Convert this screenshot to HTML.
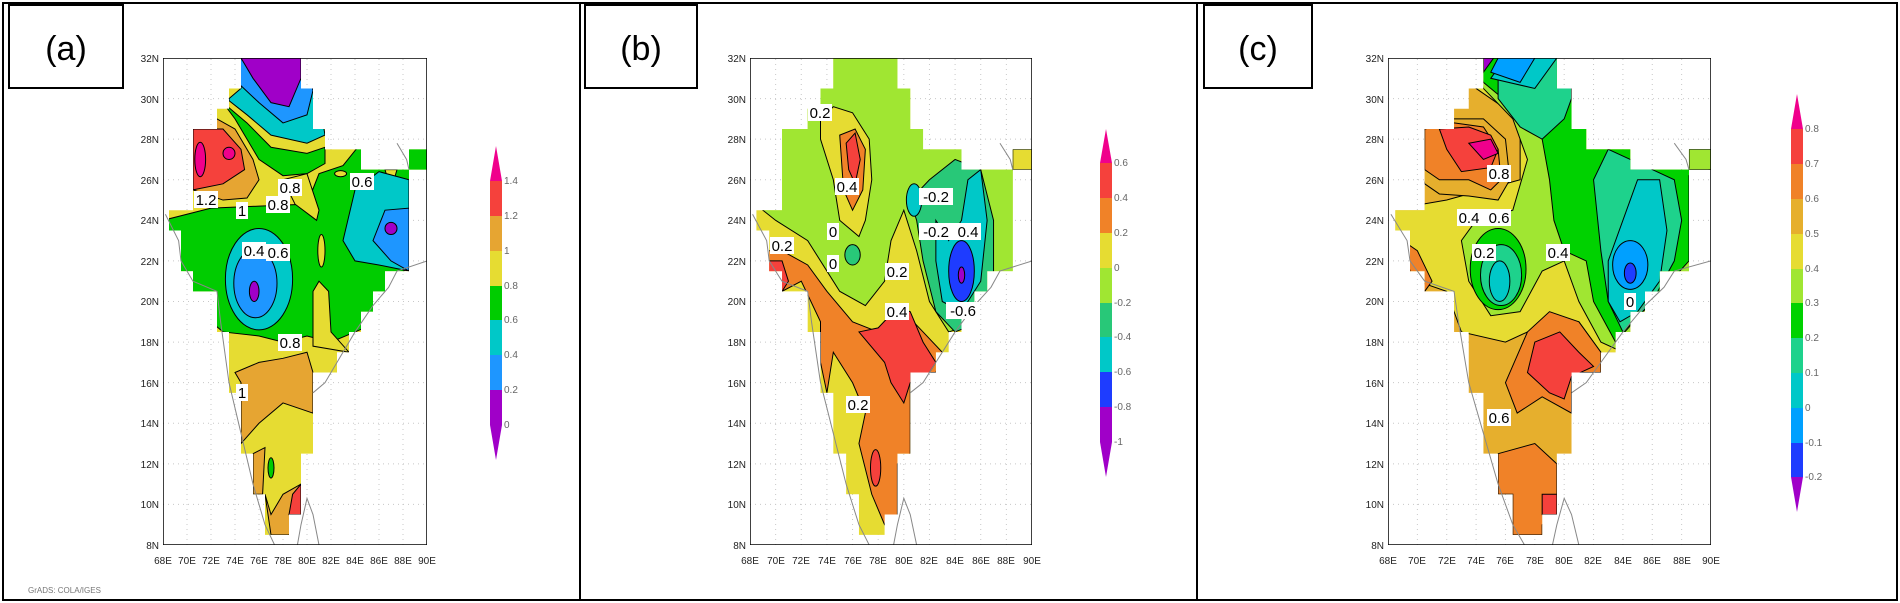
<!DOCTYPE html>
<html><head><meta charset="utf-8"><style>
html,body{margin:0;padding:0;background:#fff;overflow:hidden;width:1900px;height:603px}
svg{display:block}
svg text{font-family:"Liberation Sans",sans-serif}
.t{font-size:10px;fill:#222}
.cb{font-size:10px;fill:#666}
.lb{font-size:15px;fill:#000;text-anchor:middle}
.pl{font-size:34px;text-anchor:middle}
</style></head><body>
<svg width="1900" height="603" viewBox="0 0 1900 603" xmlns="http://www.w3.org/2000/svg">
<defs>
<clipPath id="india"><path d="M74.5,32 L79.5,32 L79.5,30.5 L80.5,30.5 L80.5,28.5 L81.5,28.5 L81.5,27.5 L84.5,27.5 L84.5,26.5 L88.5,26.5 L88.5,27.5 L90,27.5 L90,26.5 L88.5,26.5 L88.5,21.5 L86.5,21.5 L86.5,20.5 L85.5,20.5 L85.5,19.5 L84.5,19.5 L84.5,18.5 L83.5,18.5 L83.5,17.5 L82.5,17.5 L82.5,16.5 L80.5,16.5 L80.5,12.5 L79.5,12.5 L79.5,9.5 L78.5,9.5 L78.5,8.5 L76.5,8.5 L76.5,10.5 L75.5,10.5 L75.5,12.5 L74.5,12.5 L74.5,15.5 L73.5,15.5 L73.5,18.5 L72.5,18.5 L72.5,20.5 L70.5,20.5 L70.5,21.5 L69.5,21.5 L69.5,23.5 L68.5,23.5 L68.5,24.5 L70.5,24.5 L70.5,28.5 L72.5,28.5 L72.5,29.5 L73.5,29.5 L73.5,30.5 L74.5,30.5 Z"/></clipPath>
<g id="grid" stroke="#c8c8c8" stroke-width="1" stroke-dasharray="1,4" fill="none">
<path vector-effect="non-scaling-stroke" d="M70,8V32M72,8V32M74,8V32M76,8V32M78,8V32M80,8V32M82,8V32M84,8V32M86,8V32M88,8V32M68,10H90M68,12H90M68,14H90M68,16H90M68,18H90M68,20H90M68,22H90M68,24H90M68,26H90M68,28H90M68,30H90"/>
</g>
<g id="coast" fill="none" stroke="#888" stroke-width="1">
<path vector-effect="non-scaling-stroke" d="M68.2,24.3 L69.3,23 L69.5,22 L70.5,21 L72.5,20.5 L72.8,19 L73.5,16 L74.5,13.5 L75.5,11 L76.5,9 L77.3,8 M79.2,8 L79.5,9 L80,10.3 L80.5,9.5 L81,8 M80.5,15.5 L81.5,16 L82.5,17 L84,18.5 L85.5,19.8 L86.8,20.7 L87.5,21.5 L90,22 M87.5,27.8 L88.3,27 L88.5,26.5"/>
</g>
<rect id="frame" x="68" y="8" width="22" height="24" fill="none" stroke="#000" stroke-width="1.5" vector-effect="non-scaling-stroke"/>
</defs>

<rect x="3" y="3" width="1894" height="597" fill="none" stroke="#000" stroke-width="2"/>
<line x1="580" y1="3" x2="580" y2="600" stroke="#000" stroke-width="2"/>
<line x1="1197" y1="3" x2="1197" y2="600" stroke="#000" stroke-width="2"/>

<rect x="9" y="5" width="114" height="83" fill="#fff" stroke="#000" stroke-width="2"/>
<text class="pl" x="66" y="60">(a)</text>
<rect x="585" y="5" width="112" height="83" fill="#fff" stroke="#000" stroke-width="2"/>
<text class="pl" x="641" y="60">(b)</text>
<rect x="1204" y="5" width="108" height="83" fill="#fff" stroke="#000" stroke-width="2"/>
<text class="pl" x="1258" y="60">(c)</text>

<text x="28" y="593" style="font-size:8px;fill:#777">GrADS: COLA/IGES</text>

<!-- PANEL A -->
<svg x="163" y="58" width="264" height="487" viewBox="68 -32 22 24" preserveAspectRatio="none">
<g transform="scale(1,-1)">
<use href="#grid"/>
<g clip-path="url(#india)" stroke="#000" stroke-width="1">
<rect x="68" y="8" width="22" height="24" fill="#e6dc32" stroke="none"/>
<path vector-effect="non-scaling-stroke" fill="#00cc00" d="M68,24 L72,24.6 L76,24.7 L80,24.8 L81,26.3 L83,26.7 L84.5,27.8 L90,28 L90,26 L88.5,22 L86,19 L84,18.5 L82,18 L80,18.3 L78,18 L76,18.3 L73,18.5 L70,20 L68,22 Z"/>
<path vector-effect="non-scaling-stroke" fill="#00cc00" d="M73,29.8 L75,28.8 L77,27.6 L80,27.3 L81.5,27.6 L81.5,26.8 L80,26.3 L78,26.2 L76,27 L74,29 Z"/>
<path vector-effect="non-scaling-stroke" fill="#e6dc32" d="M78,26 L80,26.3 L81,24.5 L80.8,24 L79,24.8 Z"/>
<path vector-effect="non-scaling-stroke" fill="#e6dc32" d="M80.5,17.8 L80.5,20.5 L81,21 L81.8,20.5 L82,18.5 L83.5,17.5 Z"/>
<ellipse vector-effect="non-scaling-stroke" cx="81.2" cy="22.5" rx="0.3" ry="0.8" fill="#e6dc32"/>
<ellipse vector-effect="non-scaling-stroke" cx="82.8" cy="26.3" rx="0.5" ry="0.15" fill="#e6dc32"/>
<path vector-effect="non-scaling-stroke" fill="#e6dc32" d="M86.5,26.5 L87,25.5 L87.5,26.5 Z"/>
<path vector-effect="non-scaling-stroke" fill="#e6a532" d="M70.5,28.5 L72.5,29 L74,28.5 L75.5,27 L76,26 L75,25.1 L73,25 L70.5,25.5 Z"/>
<path vector-effect="non-scaling-stroke" fill="#f5413c" d="M70.5,28.5 L73,28.5 L74.5,27.5 L74.8,26.5 L73,25.8 L70.5,25.5 Z"/>
<ellipse vector-effect="non-scaling-stroke" cx="71.1" cy="27" rx="0.45" ry="0.85" fill="#f0008c"/>
<ellipse vector-effect="non-scaling-stroke" cx="73.5" cy="27.3" rx="0.5" ry="0.3" fill="#f0008c"/>
<path vector-effect="non-scaling-stroke" fill="#00c8c8" d="M73.5,30 L74.5,30.5 L74.5,32 L80,32 L81,30 L81.5,28.2 L80,27.8 L77,28.2 L75,29.2 L73.5,29.9 Z"/>
<path vector-effect="non-scaling-stroke" fill="#1e96ff" d="M74.2,30.8 L74.5,32 L79.8,32 L80.5,30.4 L80,29.2 L78,28.8 L76,29.8 Z"/>
<path vector-effect="non-scaling-stroke" fill="#a000c8" d="M74.5,32 L79.5,32 L79.5,31 L78.5,29.6 L77,29.8 L75.5,31 Z"/>
<path vector-effect="non-scaling-stroke" fill="#00c8c8" d="M83,23 L84,25.5 L86,26.4 L88.5,26 L88.5,21.5 L86,21.8 L84,22 Z"/>
<path vector-effect="non-scaling-stroke" fill="#1e96ff" d="M85.5,23 L86.5,24.5 L88.5,24.6 L88.5,21.5 L87,22 Z"/>
<ellipse vector-effect="non-scaling-stroke" cx="87" cy="23.6" rx="0.5" ry="0.3" fill="#a000c8"/>
<ellipse vector-effect="non-scaling-stroke" cx="76" cy="21.1" rx="2.8" ry="2.5" fill="#00c8c8"/>
<ellipse vector-effect="non-scaling-stroke" cx="75.7" cy="20.9" rx="1.8" ry="1.7" fill="#1e96ff"/>
<ellipse vector-effect="non-scaling-stroke" cx="75.6" cy="20.5" rx="0.4" ry="0.5" fill="#a000c8"/>
<path vector-effect="non-scaling-stroke" fill="#e6a532" d="M74,16.5 L76,17 L78,17.2 L80,17.5 L80.5,16.5 L80.5,14.5 L78,15 L76,14 L74.5,13 L74.5,16 Z"/>
<path vector-effect="non-scaling-stroke" fill="#e6a532" d="M75.5,12.5 L76.5,12.8 L76.3,10.5 L75.5,10.5 Z"/>
<path vector-effect="non-scaling-stroke" fill="#e6a532" d="M76.5,10.5 L77,8.5 L78.5,8.5 L79.5,9.5 L79.5,11 L78,10.5 L77,9.5 Z"/>
<path vector-effect="non-scaling-stroke" fill="#f5413c" d="M78.5,9.5 L79.5,9.5 L79.5,11 L78.8,10.5 Z"/>
<ellipse vector-effect="non-scaling-stroke" cx="77" cy="11.8" rx="0.25" ry="0.5" fill="#00cc00"/>
</g>
<use href="#coast"/>
<use href="#frame"/>
</g>
</svg>

<!-- PANEL B -->
<svg x="750" y="58" width="282" height="487" viewBox="68 -32 22 24" preserveAspectRatio="none">
<g transform="scale(1,-1)">
<use href="#grid"/>
<g clip-path="url(#india)" stroke="#000" stroke-width="1">
<rect x="68" y="8" width="22" height="24" fill="#e6dc32" stroke="none"/>
<path vector-effect="non-scaling-stroke" fill="#a0e632" d="M68,25 L70,24 L72.5,23 L74,21.5 L75,20.5 L77,19.8 L78.5,21 L79,23 L80,24.5 L81,22.5 L82,20 L83.5,18.5 L86,19 L90,22 L90,32 L68,32 Z"/>
<path vector-effect="non-scaling-stroke" fill="#e6dc32" d="M73.5,29 L74.5,29.6 L76,29.3 L77.3,28 L77.5,26 L77,24 L76.5,23.2 L75,24 L74.5,26 L73.5,28 Z"/>
<path vector-effect="non-scaling-stroke" fill="#e6dc32" d="M88.5,27.5 L90,27.5 L90,26.5 L88.5,26.5 Z"/>
<path vector-effect="non-scaling-stroke" fill="#f08228" d="M75,28.2 L76.2,28.5 L77,27.5 L76.8,25.5 L76,24.5 L75.3,25.5 Z"/>
<path vector-effect="non-scaling-stroke" fill="#f5413c" d="M75.5,27.8 L76.2,28.3 L76.6,27 L76.2,25.8 L75.7,26.5 Z"/>
<path vector-effect="non-scaling-stroke" fill="#28c878" d="M80.5,25 L82,26 L84,27 L86,26.5 L87,24 L87,21 L86,19 L84,18.5 L82.5,19.5 L81.5,22 L81,24 Z"/>
<path vector-effect="non-scaling-stroke" fill="#00c8c8" d="M82.5,24 L83.5,23 L84.5,24 L85,26 L86,26.5 L86.5,24 L86,21 L84.5,19.5 L83,20 L82.5,22 Z"/>
<ellipse vector-effect="non-scaling-stroke" cx="80.8" cy="25" rx="0.6" ry="0.8" fill="#00c8c8"/>
<ellipse vector-effect="non-scaling-stroke" cx="84.5" cy="21.5" rx="1" ry="1.5" fill="#1e3cff"/>
<ellipse vector-effect="non-scaling-stroke" cx="84.5" cy="21.3" rx="0.25" ry="0.4" fill="#a000c8"/>
<ellipse vector-effect="non-scaling-stroke" cx="76" cy="22.3" rx="0.6" ry="0.5" fill="#28c878"/>
<path vector-effect="non-scaling-stroke" fill="#f08228" d="M68.5,22.5 L70.5,22.5 L72.5,21.8 L74,20.5 L76,19 L78,18.5 L80,19.5 L81.5,18.5 L83,17.5 L82.5,16.5 L80.5,16.5 L80.5,12.5 L79.5,12 L79.5,9.5 L78.5,9 L77.5,10.5 L76.5,13 L77,14.5 L76,16 L74.5,17.5 L74,15.5 L73.5,17 L73.5,19 L72,21 L70.5,20.5 L69.5,21 L68.5,22 Z"/>
<path vector-effect="non-scaling-stroke" fill="#f5413c" d="M76.5,18.5 L78,18.7 L79.5,19.7 L80.5,19.5 L81.5,18 L82.5,17 L82,16.5 L80.5,16 L80,15 L79,16 L78.5,17 Z"/>
<path vector-effect="non-scaling-stroke" fill="#f5413c" d="M68.5,22 L70.5,22 L71,21 L70.5,20.5 L69.5,21 Z"/>
<ellipse vector-effect="non-scaling-stroke" cx="77.8" cy="11.8" rx="0.4" ry="0.9" fill="#f5413c"/>
</g>
<use href="#coast"/>
<use href="#frame"/>
</g>
</svg>

<!-- PANEL C -->
<svg x="1388" y="58" width="323" height="487" viewBox="68 -32 22 24" preserveAspectRatio="none">
<g transform="scale(1,-1)">
<use href="#grid"/>
<g clip-path="url(#india)" stroke="#000" stroke-width="1">
<rect x="68" y="8" width="22" height="24" fill="#e6af2d" stroke="none"/>
<path vector-effect="non-scaling-stroke" fill="#e6dc32" d="M68,24.5 L72,25 L77,26 L77,29 L74,30.5 L74,32 L90,32 L90,17 L83,17 L81,19 L79,19 L76,18 L73,18.5 L72,20.5 L70,21 L68,22 Z"/>
<path vector-effect="non-scaling-stroke" fill="#a0e632" d="M74.5,30.5 L76.5,29 L77.5,27 L76.5,24.5 L74,24 L73,23 L73.5,21 L75,19.3 L77,19.5 L78.5,21.5 L80,22 L81,20 L82.5,18 L84,17.5 L90,20 L90,32 L74,32 Z"/>
<path vector-effect="non-scaling-stroke" fill="#00d200" d="M74.5,30.8 L77,29.3 L78.5,28 L79,26 L79.3,24 L80,22.5 L81.5,22 L82,20 L83.5,18 L86,20 L88.5,22 L88.5,26.2 L90,26.5 L90,32 L74,32 Z"/>
<path vector-effect="non-scaling-stroke" fill="#a0e632" d="M88.5,27.5 L90,27.5 L90,26.5 L88.5,26.5 Z"/>
<path vector-effect="non-scaling-stroke" fill="#1ed28c" d="M75.5,32 L80.5,32 L80.5,30 L80,29 L78.5,28 L77,28.6 L75.5,30 Z"/>
<path vector-effect="non-scaling-stroke" fill="#1ed28c" d="M82,26 L83,27.5 L84.5,27 L86,26.5 L87.5,26 L88,24 L87.5,22 L86,20 L84,18.5 L83,20 L82.5,22.5 Z"/>
<path vector-effect="non-scaling-stroke" fill="#00c8c8" d="M83,22 L84,24 L85,26 L86.5,26 L87,23.5 L86.5,21 L85,19.5 L83.8,19 L83,20 Z"/>
<ellipse vector-effect="non-scaling-stroke" cx="84.5" cy="21.8" rx="1.2" ry="1.2" fill="#00a0ff"/>
<ellipse vector-effect="non-scaling-stroke" cx="84.5" cy="21.4" rx="0.4" ry="0.5" fill="#1e3cff"/>
<path vector-effect="non-scaling-stroke" fill="#00c8c8" d="M75,31 L76,32 L79.5,32 L78,30.5 Z"/>
<path vector-effect="non-scaling-stroke" fill="#00a0ff" d="M75,31.3 L75.5,32 L78,32 L77,30.8 Z"/>
<path vector-effect="non-scaling-stroke" fill="#a000c8" d="M74.5,32 L75.2,32 L74.5,31.3 Z"/>
<ellipse vector-effect="non-scaling-stroke" cx="75.5" cy="21.6" rx="1.9" ry="2" fill="#00d200"/>
<ellipse vector-effect="non-scaling-stroke" cx="75.7" cy="21.3" rx="1.4" ry="1.5" fill="#1ed28c"/>
<ellipse vector-effect="non-scaling-stroke" cx="75.6" cy="21" rx="0.7" ry="1" fill="#00c8c8"/>
<path vector-effect="non-scaling-stroke" fill="#e6af2d" d="M70,27.5 L70.5,28.5 L72.5,29 L74.5,29 L76,28 L76.3,26 L75.5,25 L73.5,25.2 L71.5,25.3 L70.5,25.8 Z"/>
<path vector-effect="non-scaling-stroke" fill="#f08228" d="M70.5,28.5 L72.5,28.8 L74.5,28.6 L75.5,27.5 L75.7,26 L75,25.5 L73.5,26 L71.5,26 L70.5,26.5 Z"/>
<path vector-effect="non-scaling-stroke" fill="#f5413c" d="M71.5,28.5 L73.5,28.6 L75,28.2 L75.5,27.5 L75,26.6 L73,26.4 L72,27.5 Z"/>
<path vector-effect="non-scaling-stroke" fill="#f0008c" d="M73.5,27.8 L75,28 L75.5,27.3 L74.5,27 Z"/>
<path vector-effect="non-scaling-stroke" fill="#f08228" d="M69,23 L70,22.5 L71,21 L70.5,20.5 L69.5,21.5 Z"/>
<path vector-effect="non-scaling-stroke" fill="#f08228" d="M76,16 L77.5,18.5 L79,19.5 L81,19 L82.5,17.5 L82.5,16.5 L80.5,16.5 L80.5,14.5 L78.5,15.3 L76.8,14.5 Z"/>
<path vector-effect="non-scaling-stroke" fill="#f5413c" d="M78,18 L79.7,18.5 L81,17.5 L82,16.8 L80.5,16.3 L80,15.2 L79,15.5 L77.5,16.5 Z"/>
<path vector-effect="non-scaling-stroke" fill="#f08228" d="M75.5,12.5 L78,13 L79.5,12 L79.5,9.5 L78.5,9 L78.5,8.5 L76.5,8.5 L76.5,10.5 L75.5,10.5 Z"/>
<path vector-effect="non-scaling-stroke" fill="#f5413c" d="M78.5,9.5 L79.5,9.5 L79.5,10.5 L78.5,10.5 Z"/>
</g>
<use href="#coast"/>
<use href="#frame"/>
</g>
</svg>

<g>
<rect x="194" y="191" width="24" height="17" fill="#fff"/><text class="lb" x="206" y="205">1.2</text>
<rect x="236" y="202" width="12" height="17" fill="#fff"/><text class="lb" x="242" y="216">1</text>
<rect x="278" y="179" width="24" height="17" fill="#fff"/><text class="lb" x="290" y="193">0.8</text>
<rect x="266" y="196" width="24" height="17" fill="#fff"/><text class="lb" x="278" y="210">0.8</text>
<rect x="350" y="173" width="24" height="17" fill="#fff"/><text class="lb" x="362" y="187">0.6</text>
<rect x="242" y="242" width="24" height="17" fill="#fff"/><text class="lb" x="254" y="256">0.4</text>
<rect x="266" y="244" width="24" height="17" fill="#fff"/><text class="lb" x="278" y="258">0.6</text>
<rect x="278" y="334" width="24" height="17" fill="#fff"/><text class="lb" x="290" y="348">0.8</text>
<rect x="236" y="384" width="12" height="17" fill="#fff"/><text class="lb" x="242" y="398">1</text>
</g>
<g>
<rect x="808" y="104" width="24" height="17" fill="#fff"/><text class="lb" x="820" y="118">0.2</text>
<rect x="835" y="178" width="24" height="17" fill="#fff"/><text class="lb" x="847" y="192">0.4</text>
<rect x="827" y="223" width="12" height="17" fill="#fff"/><text class="lb" x="833" y="237">0</text>
<rect x="827" y="255" width="12" height="17" fill="#fff"/><text class="lb" x="833" y="269">0</text>
<rect x="770" y="237" width="24" height="17" fill="#fff"/><text class="lb" x="782" y="251">0.2</text>
<rect x="919" y="188" width="34" height="17" fill="#fff"/><text class="lb" x="936" y="202">-0.2</text>
<rect x="919" y="223" width="62" height="17" fill="#fff"/><text class="lb" x="936" y="237">-0.2</text><text class="lb" x="968" y="237">0.4</text>
<rect x="885" y="263" width="24" height="17" fill="#fff"/><text class="lb" x="897" y="277">0.2</text>
<rect x="885" y="303" width="24" height="17" fill="#fff"/><text class="lb" x="897" y="317">0.4</text>
<rect x="946" y="302" width="34" height="17" fill="#fff"/><text class="lb" x="963" y="316">-0.6</text>
<rect x="846" y="396" width="24" height="17" fill="#fff"/><text class="lb" x="858" y="410">0.2</text>
</g>
<g>
<rect x="1487" y="165" width="24" height="17" fill="#fff"/><text class="lb" x="1499" y="179">0.8</text>
<rect x="1457" y="209" width="54" height="17" fill="#fff"/><text class="lb" x="1469" y="223">0.4</text><text class="lb" x="1499" y="223">0.6</text>
<rect x="1472" y="244" width="24" height="17" fill="#fff"/><text class="lb" x="1484" y="258">0.2</text>
<rect x="1546" y="244" width="24" height="17" fill="#fff"/><text class="lb" x="1558" y="258">0.4</text>
<rect x="1624" y="293" width="12" height="17" fill="#fff"/><text class="lb" x="1630" y="307">0</text>
<rect x="1487" y="409" width="24" height="17" fill="#fff"/><text class="lb" x="1499" y="423">0.6</text>
</g>

<g class="t" text-anchor="end">
<text x="159" y="62">32N</text><text x="159" y="103">30N</text><text x="159" y="143">28N</text><text x="159" y="184">26N</text><text x="159" y="224">24N</text><text x="159" y="265">22N</text><text x="159" y="305">20N</text><text x="159" y="346">18N</text><text x="159" y="387">16N</text><text x="159" y="427">14N</text><text x="159" y="468">12N</text><text x="159" y="508">10N</text><text x="159" y="549">8N</text>
</g>
<g class="t" text-anchor="middle">
<text x="163" y="564">68E</text><text x="187" y="564">70E</text><text x="211" y="564">72E</text><text x="235" y="564">74E</text><text x="259" y="564">76E</text><text x="283" y="564">78E</text><text x="307" y="564">80E</text><text x="331" y="564">82E</text><text x="355" y="564">84E</text><text x="379" y="564">86E</text><text x="403" y="564">88E</text><text x="427" y="564">90E</text>
</g>
<g class="t" text-anchor="end">
<text x="746" y="62">32N</text><text x="746" y="103">30N</text><text x="746" y="143">28N</text><text x="746" y="184">26N</text><text x="746" y="224">24N</text><text x="746" y="265">22N</text><text x="746" y="305">20N</text><text x="746" y="346">18N</text><text x="746" y="387">16N</text><text x="746" y="427">14N</text><text x="746" y="468">12N</text><text x="746" y="508">10N</text><text x="746" y="549">8N</text>
</g>
<g class="t" text-anchor="middle">
<text x="750" y="564">68E</text><text x="776" y="564">70E</text><text x="801" y="564">72E</text><text x="827" y="564">74E</text><text x="853" y="564">76E</text><text x="878" y="564">78E</text><text x="904" y="564">80E</text><text x="929" y="564">82E</text><text x="955" y="564">84E</text><text x="981" y="564">86E</text><text x="1006" y="564">88E</text><text x="1032" y="564">90E</text>
</g>
<g class="t" text-anchor="end">
<text x="1384" y="62">32N</text><text x="1384" y="103">30N</text><text x="1384" y="143">28N</text><text x="1384" y="184">26N</text><text x="1384" y="224">24N</text><text x="1384" y="265">22N</text><text x="1384" y="305">20N</text><text x="1384" y="346">18N</text><text x="1384" y="387">16N</text><text x="1384" y="427">14N</text><text x="1384" y="468">12N</text><text x="1384" y="508">10N</text><text x="1384" y="549">8N</text>
</g>
<g class="t" text-anchor="middle">
<text x="1388" y="564">68E</text><text x="1417" y="564">70E</text><text x="1447" y="564">72E</text><text x="1476" y="564">74E</text><text x="1505" y="564">76E</text><text x="1535" y="564">78E</text><text x="1564" y="564">80E</text><text x="1593" y="564">82E</text><text x="1623" y="564">84E</text><text x="1652" y="564">86E</text><text x="1682" y="564">88E</text><text x="1711" y="564">90E</text>
</g>

<g>
<polygon points="490,181 496,146 502,181" fill="#f0008c"/>
<rect x="490" y="181" width="12" height="35" fill="#f5413c"/>
<rect x="490" y="216" width="12" height="35" fill="#e6a532"/>
<rect x="490" y="251" width="12" height="35" fill="#e6dc32"/>
<rect x="490" y="286" width="12" height="34" fill="#00cc00"/>
<rect x="490" y="320" width="12" height="35" fill="#00c8c8"/>
<rect x="490" y="355" width="12" height="35" fill="#1e96ff"/>
<rect x="490" y="390" width="12" height="35" fill="#a000c8"/>
<polygon points="490,425 496,460 502,425" fill="#a000c8"/>
<g class="cb"><text x="504" y="184">1.4</text><text x="504" y="219">1.2</text><text x="504" y="254">1</text><text x="504" y="289">0.8</text><text x="504" y="323">0.6</text><text x="504" y="358">0.4</text><text x="504" y="393">0.2</text><text x="504" y="428">0</text></g>
</g>
<g>
<polygon points="1100,163 1106,129 1112,163" fill="#f0008c"/>
<rect x="1100" y="163" width="12" height="35" fill="#f5413c"/>
<rect x="1100" y="198" width="12" height="35" fill="#f08228"/>
<rect x="1100" y="233" width="12" height="35" fill="#e6dc32"/>
<rect x="1100" y="268" width="12" height="35" fill="#a0e632"/>
<rect x="1100" y="303" width="12" height="34" fill="#28c878"/>
<rect x="1100" y="337" width="12" height="35" fill="#00c8c8"/>
<rect x="1100" y="372" width="12" height="35" fill="#1e3cff"/>
<rect x="1100" y="407" width="12" height="35" fill="#a000c8"/>
<polygon points="1100,442 1106,477 1112,442" fill="#a000c8"/>
<g class="cb"><text x="1114" y="166">0.6</text><text x="1114" y="201">0.4</text><text x="1114" y="236">0.2</text><text x="1114" y="271">0</text><text x="1114" y="306">-0.2</text><text x="1114" y="340">-0.4</text><text x="1114" y="375">-0.6</text><text x="1114" y="410">-0.8</text><text x="1114" y="445">-1</text></g>
</g>
<g>
<polygon points="1791,129 1797,94 1803,129" fill="#f0008c"/>
<rect x="1791" y="129" width="12" height="35" fill="#f5413c"/>
<rect x="1791" y="164" width="12" height="35" fill="#f08228"/>
<rect x="1791" y="199" width="12" height="35" fill="#e6af2d"/>
<rect x="1791" y="234" width="12" height="35" fill="#e6dc32"/>
<rect x="1791" y="269" width="12" height="34" fill="#a0e632"/>
<rect x="1791" y="303" width="12" height="35" fill="#00d200"/>
<rect x="1791" y="338" width="12" height="35" fill="#1ed28c"/>
<rect x="1791" y="373" width="12" height="35" fill="#00c8c8"/>
<rect x="1791" y="408" width="12" height="35" fill="#00a0ff"/>
<rect x="1791" y="443" width="12" height="34" fill="#1e3cff"/>
<polygon points="1791,477 1797,512 1803,477" fill="#a000c8"/>
<g class="cb"><text x="1805" y="132">0.8</text><text x="1805" y="167">0.7</text><text x="1805" y="202">0.6</text><text x="1805" y="237">0.5</text><text x="1805" y="272">0.4</text><text x="1805" y="306">0.3</text><text x="1805" y="341">0.2</text><text x="1805" y="376">0.1</text><text x="1805" y="411">0</text><text x="1805" y="446">-0.1</text><text x="1805" y="480">-0.2</text></g>
</g>
</svg>
</body></html>
